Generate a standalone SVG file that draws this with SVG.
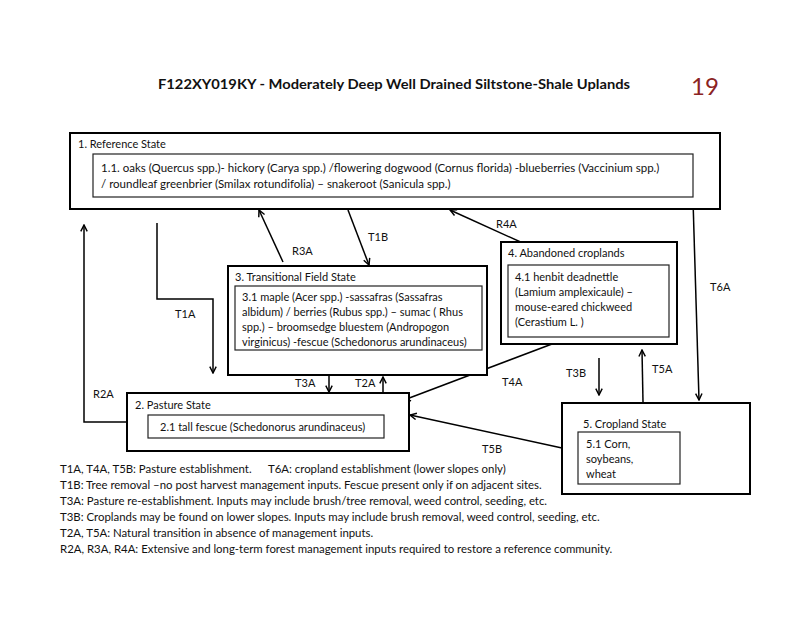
<svg xmlns="http://www.w3.org/2000/svg" width="800" height="617" viewBox="0 0 800 617">
<defs>
<marker id="ah" viewBox="0 0 10 10" refX="9" refY="5" markerWidth="8" markerHeight="8" markerUnits="userSpaceOnUse" orient="auto">
<path d="M1,1 L9,5 L1,9" fill="none" stroke="#000" stroke-width="1.8"/>
</marker>
<style>
text{font-family:Lato,"Liberation Sans",sans-serif;font-size:11px;fill:#111}
.title{font-size:14px;font-weight:bold}
.num{font-size:24px;fill:#8b2323}
.big{font-size:11.5px}
.leg{font-size:11.4px}
.outer{fill:#fff;stroke:#000;stroke-width:2}
.inner{fill:#fff;stroke:#222;stroke-width:1.2}
.c{fill:none;stroke:#000;stroke-width:1.5;marker-end:url(#ah)}
</style>
</defs>
<rect width="800" height="617" fill="#fff"/>
<text class="title" x="158" y="89" textLength="472" lengthAdjust="spacingAndGlyphs">F122XY019KY - Moderately Deep Well Drained Siltstone-Shale Uplands</text>
<text class="num" x="691" y="95">19</text>

<g id="connectors">
<polyline class="c" points="157,223 157,299 213,299 213,373"/>
<polyline class="c" points="128,422 84,422 84,225"/>
<line class="c" x1="283" y1="262" x2="259" y2="210"/>
<line class="c" x1="348" y1="210" x2="369" y2="265"/>
<line class="c" x1="329" y1="376" x2="329" y2="392"/>
<line class="c" x1="383" y1="394" x2="383" y2="377"/>
<line class="c" x1="552" y1="344" x2="404" y2="400"/>
<line class="c" x1="562" y1="448" x2="410" y2="415"/>
<line class="c" x1="525" y1="244" x2="450" y2="210"/>
<line class="c" x1="599" y1="358" x2="599" y2="395"/>
<line class="c" x1="643" y1="402" x2="642" y2="350"/>
<line class="c" x1="693" y1="200" x2="699" y2="400"/>
<text x="175" y="318">T1A</text>
<text x="93" y="398">R2A</text>
<text x="292" y="255">R3A</text>
<text x="368" y="241">T1B</text>
<text x="295" y="387">T3A</text>
<text x="355" y="387">T2A</text>
<text x="502" y="386">T4A</text>
<text x="482" y="453">T5B</text>
<text x="496" y="228">R4A</text>
<text x="566" y="377">T3B</text>
<text x="652" y="373">T5A</text>
<text x="710" y="291">T6A</text>
</g>

<g id="reference">
<rect class="outer" x="70" y="133" width="650" height="76"/>
<text x="78" y="148">1. Reference State</text>
<rect class="inner" x="93" y="154" width="600" height="43"/>
<text class="big" x="101" y="172">1.1. oaks (Quercus spp.)- hickory (Carya spp.) /flowering dogwood (Cornus florida) -blueberries (Vaccinium spp.)</text>
<text class="big" x="101" y="188">/ roundleaf greenbrier (Smilax rotundifolia) – snakeroot (Sanicula spp.)</text>
</g>

<g id="transitional">
<rect class="outer" x="228" y="266" width="259" height="109"/>
<text x="235" y="281">3. Transitional Field State</text>
<rect class="inner" x="235" y="286" width="247" height="64"/>
<text x="242" y="301">3.1 maple (Acer spp.) -sassafras (Sassafras</text>
<text x="242" y="316">albidum) / berries (Rubus spp.) – sumac ( Rhus</text>
<text x="242" y="331">spp.) – broomsedge bluestem (Andropogon</text>
<text x="242" y="346">virginicus) -fescue (Schedonorus arundinaceus)</text>
</g>

<g id="abandoned">
<rect class="outer" x="501" y="242" width="176" height="102"/>
<text x="508" y="257">4. Abandoned croplands</text>
<rect class="inner" x="508" y="265" width="161" height="72"/>
<text x="515" y="281">4.1 henbit deadnettle</text>
<text x="515" y="296">(Lamium amplexicaule) –</text>
<text x="515" y="311">mouse-eared chickweed</text>
<text x="515" y="326">(Cerastium L. )</text>
</g>

<g id="pasture">
<rect class="outer" x="127" y="393" width="282" height="58"/>
<text x="135" y="409">2. Pasture State</text>
<rect class="inner" x="148" y="415" width="236" height="23"/>
<text x="160" y="431">2.1 tall fescue (Schedonorus arundinaceus)</text>
</g>

<g id="cropland">
<rect class="outer" x="562" y="403" width="188" height="91"/>
<text x="583" y="428">5. Cropland State</text>
<rect class="inner" x="578" y="432" width="102" height="52"/>
<text x="586" y="448">5.1 Corn,</text>
<text x="586" y="463">soybeans,</text>
<text x="586" y="478">wheat</text>
</g>

<g id="legend">
<text class="leg" x="60" y="473">T1A, T4A, T5B: Pasture establishment.</text>
<text class="leg" x="268" y="473">T6A: cropland establishment (lower slopes only)</text>
<text class="leg" x="60" y="489">T1B: Tree removal –no post harvest management inputs. Fescue present only if on adjacent sites.</text>
<text class="leg" x="60" y="505">T3A: Pasture re-establishment.  Inputs may include brush/tree removal, weed control, seeding, etc.</text>
<text class="leg" x="60" y="521">T3B: Croplands may be found on lower slopes.  Inputs may include brush removal, weed control, seeding, etc.</text>
<text class="leg" x="60" y="537">T2A, T5A: Natural transition in absence of management inputs.</text>
<text class="leg" x="60" y="553">R2A, R3A, R4A: Extensive and long-term forest management inputs required to restore a reference community.</text>
</g>
</svg>
